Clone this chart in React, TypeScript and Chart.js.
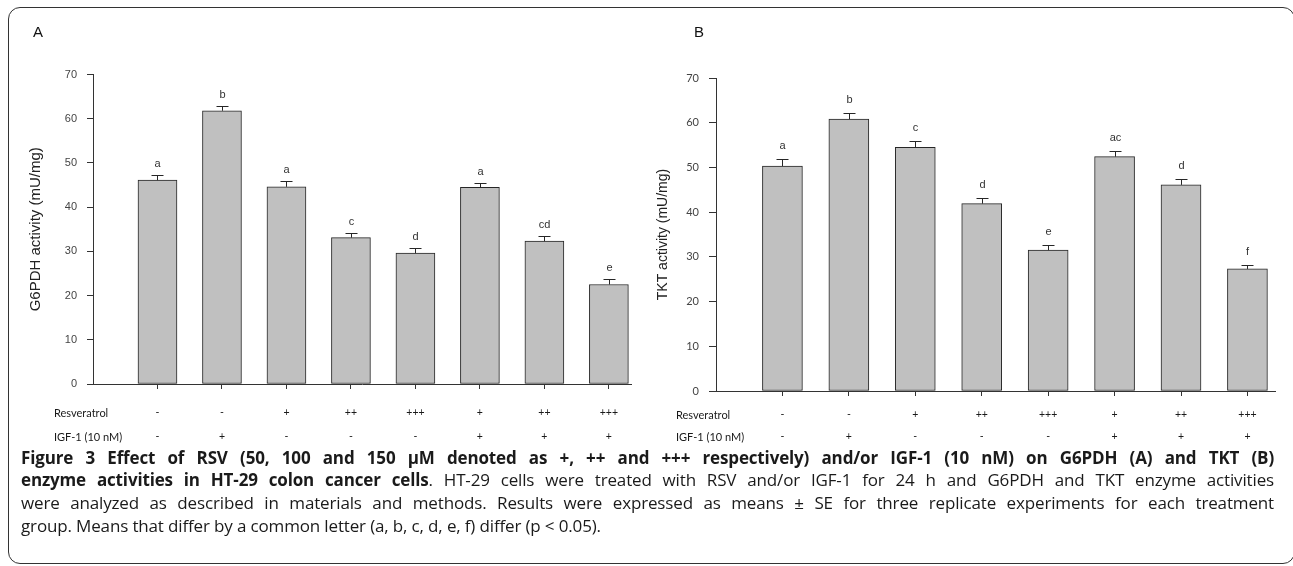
import React, { useEffect, useRef } from 'react';
import { Chart, registerables } from 'chart.js';

Chart.register(...registerables);

// ---- data ----
const rowLabels = ['Resveratrol', 'IGF-1 (10 nM)'];
const resveratrol = ['-', '-', '+', '++', '+++', '+', '++', '+++'];
const igf1 = ['-', '+', '-', '-', '-', '+', '+', '+'];
const yTickValues = [0, 10, 20, 30, 40, 50, 60, 70];

const g6pdhMeans = [46.1, 61.8, 44.6, 33.1, 29.6, 44.5, 32.3, 22.5];
const g6pdhSE = [1.2, 1.1, 1.2, 1.1, 1.2, 0.9, 1.2, 1.2];
const g6pdhLetters = ['a', 'b', 'a', 'c', 'd', 'a', 'cd', 'e'];

const tktMeans = [50.3, 60.8, 54.5, 41.9, 31.5, 52.4, 46.1, 27.3];
const tktSE = [1.5, 1.3, 1.3, 1.3, 1.1, 1.3, 1.3, 0.9];
const tktLetters = ['a', 'b', 'c', 'd', 'e', 'ac', 'd', 'f'];

type PanelProps = {
  means: number[];
  se: number[];
  letters: string[];
  title: string;
  left: number;
  width: number;
  height: number;
  yW: number;
  xMax: number;
  pad: { left: number; top: number; right: number; bottom: number };
  xH: number;
  xPad: number;
  rowH: number;
  barW: number;
  yTick: number;
  titlePad: number;
  titleSize: number;
  tickFamily: string;
  letterGap: number;
  rowLabelX: number;
};

function Panel(p: PanelProps) {
  const ref = useRef<HTMLCanvasElement>(null);
  useEffect(() => {
    const errPlugin = {
      id: 'errbars',
      afterDatasetsDraw(chart: any) {
        const ctx = chart.ctx;
        const xs = chart.scales.x;
        const ys = chart.scales.y;
        ctx.save();
        ctx.strokeStyle = '#262626';
        ctx.lineWidth = 1;
        p.means.forEach((m, i) => {
          const x = Math.round(xs.getPixelForValue(i)) + 0.5;
          const y0 = ys.getPixelForValue(m);
          const y1 = Math.round(ys.getPixelForValue(m + p.se[i])) + 0.5;
          ctx.beginPath();
          ctx.moveTo(x, y0);
          ctx.lineTo(x, y1);
          ctx.moveTo(x - 6, y1);
          ctx.lineTo(x + 6, y1);
          ctx.stroke();
          ctx.fillStyle = '#333';
          ctx.font = '11px "Liberation Sans", Arial, sans-serif';
          ctx.textAlign = 'center';
          ctx.textBaseline = 'middle';
          ctx.fillText(p.letters[i], x, y1 - p.letterGap);
        });
        // row labels of the treatment table
        ctx.fillStyle = '#1a1a1a';
        ctx.font = '11px Lato, sans-serif';
        ctx.textAlign = 'left';
        ctx.textBaseline = 'middle';
        const base = xs.top + 5 + p.xPad + p.rowH / 2;
        rowLabels.forEach((t, k) => {
          ctx.fillText(t, p.rowLabelX, base + k * p.rowH);
        });
        ctx.restore();
      },
    };

    const chart = new Chart(ref.current as HTMLCanvasElement, {
      type: 'bar',
      data: {
        datasets: [
          {
            data: p.means.map((v, i) => ({ x: i, y: v })),
            backgroundColor: '#c0c0c0',
            borderColor: '#262626',
            borderWidth: 1,
            borderSkipped: false,
            barThickness: p.barW,
          } as any,
        ],
      },
      options: {
        responsive: false,
        maintainAspectRatio: false,
        animation: false,
        layout: { padding: p.pad },
        plugins: { legend: { display: false }, tooltip: { enabled: false } },
        scales: {
          x: {
            type: 'linear',
            min: -1,
            max: p.xMax,
            offset: false,
            grid: {
              display: true,
              offset: false,
              drawOnChartArea: false,
              drawTicks: true,
              tickLength: 5,
              color: '#333',
            },
            border: { display: true, color: '#333', width: 1 },
            afterBuildTicks: (s: any) => {
              s.ticks = resveratrol.map((_, i) => ({ value: i }));
            },
            afterFit: (s: any) => {
              s.height = p.xH;
            },
            ticks: {
              autoSkip: false,
              maxRotation: 0,
              minRotation: 0,
              padding: p.xPad,
              color: '#1a1a1a',
              font: { family: 'Lato, sans-serif', size: 10.5, lineHeight: p.rowH + 'px' },
              callback: (_v: any, i: number) => [resveratrol[i], igf1[i]],
            },
          } as any,
          y: {
            min: 0,
            max: 70,
            afterBuildTicks: (s: any) => {
              s.ticks = yTickValues.map((v) => ({ value: v }));
            },
            ticks: {
              padding: 10,
              color: '#444',
              font: { family: p.tickFamily, size: 11 },
            },
            grid: {
              display: true,
              drawOnChartArea: false,
              drawTicks: true,
              tickLength: p.yTick,
              color: '#333',
            },
            border: { display: true, color: '#333', width: 1 },
            title: {
              display: true,
              text: p.title,
              color: '#222',
              font: { family: '"Liberation Sans", Arial, sans-serif', size: p.titleSize },
              padding: { top: p.titlePad, bottom: 0 },
            },
            afterFit: (s: any) => {
              s.width = p.yW;
            },
          } as any,
        },
      },
      plugins: [errPlugin],
    });
    return () => chart.destroy();
  }, []);
  return (
    <canvas
      ref={ref}
      width={p.width}
      height={p.height}
      style={{ position: 'absolute', left: p.left, top: 0, width: p.width, height: p.height }}
    />
  );
}

const captionLine: React.CSSProperties = {
  textAlign: 'justify',
  textAlignLast: 'justify' as any,
  height: 22.7,
  lineHeight: '22.7px',
};

export default function App() {
  return (
    <div
      style={{
        position: 'absolute',
        left: 0,
        top: 0,
        width: 1293,
        height: 566,
        overflow: 'hidden',
        background: '#fff',
      }}
    >
      <div
        style={{
          position: 'absolute',
          left: 8,
          top: 7,
          width: 1287,
          height: 557,
          boxSizing: 'border-box',
          border: '1.5px solid #333',
          borderRadius: 12,
        }}
      />
      <Panel
        means={g6pdhMeans}
        se={g6pdhSE}
        letters={g6pdhLetters}
        title="G6PDH activity (mU/mg)"
        left={0}
        width={650}
        height={450}
        yW={93}
        xMax={7.343}
        pad={{ left: 0, top: 74.5, right: 19, bottom: 6 }}
        xH={60}
        xPad={12}
        rowH={24}
        barW={39}
        yTick={6}
        titlePad={27}
        titleSize={15}
        tickFamily='"Liberation Sans", Arial, sans-serif'
        letterGap={12}
        rowLabelX={54}
      />
      <Panel
        means={tktMeans}
        se={tktSE}
        letters={tktLetters}
        title="TKT activity (mU/mg)"
        left={640}
        width={650}
        height={450}
        yW={76}
        xMax={7.415}
        pad={{ left: 0, top: 78, right: 15, bottom: 4 }}
        xH={55}
        xPad={8}
        rowH={22}
        barW={40}
        yTick={7}
        titlePad={15}
        titleSize={14}
        tickFamily='Lato, sans-serif'
        letterGap={14}
        rowLabelX={36}
      />
      <div
        style={{
          position: 'absolute',
          left: 33,
          top: 23,
          font: '15px "Liberation Sans", Arial, sans-serif',
          color: '#111',
        }}
      >
        A
      </div>
      <div
        style={{
          position: 'absolute',
          left: 694,
          top: 23,
          font: '15px "Liberation Sans", Arial, sans-serif',
          color: '#111',
        }}
      >
        B
      </div>
      <div
        style={{
          position: 'absolute',
          left: 21,
          top: 446.6,
          width: 1253,
          font: '17px "Open Sans", sans-serif',
          letterSpacing: '-0.15px',
          color: '#1a1a1a',
        }}
      >
        <div style={{ ...captionLine, fontWeight: 700 }}>
          Figure 3 Effect of RSV (50, 100 and 150 µM denoted as +, ++ and +++ respectively) and/or IGF-1 (10 nM) on G6PDH (A) and TKT (B)
        </div>
        <div style={captionLine}>
          <b>enzyme activities in HT-29 colon cancer cells</b>. HT-29 cells were treated with RSV and/or IGF-1 for 24 h and G6PDH and TKT enzyme activities
        </div>
        <div style={captionLine}>
          were analyzed as described in materials and methods. Results were expressed as means ± SE for three replicate experiments for each treatment
        </div>
        <div style={{ height: 22.7, lineHeight: '22.7px' }}>
          group. Means that differ by a common letter (a, b, c, d, e, f) differ (p &lt; 0.05).
        </div>
      </div>
    </div>
  );
}
